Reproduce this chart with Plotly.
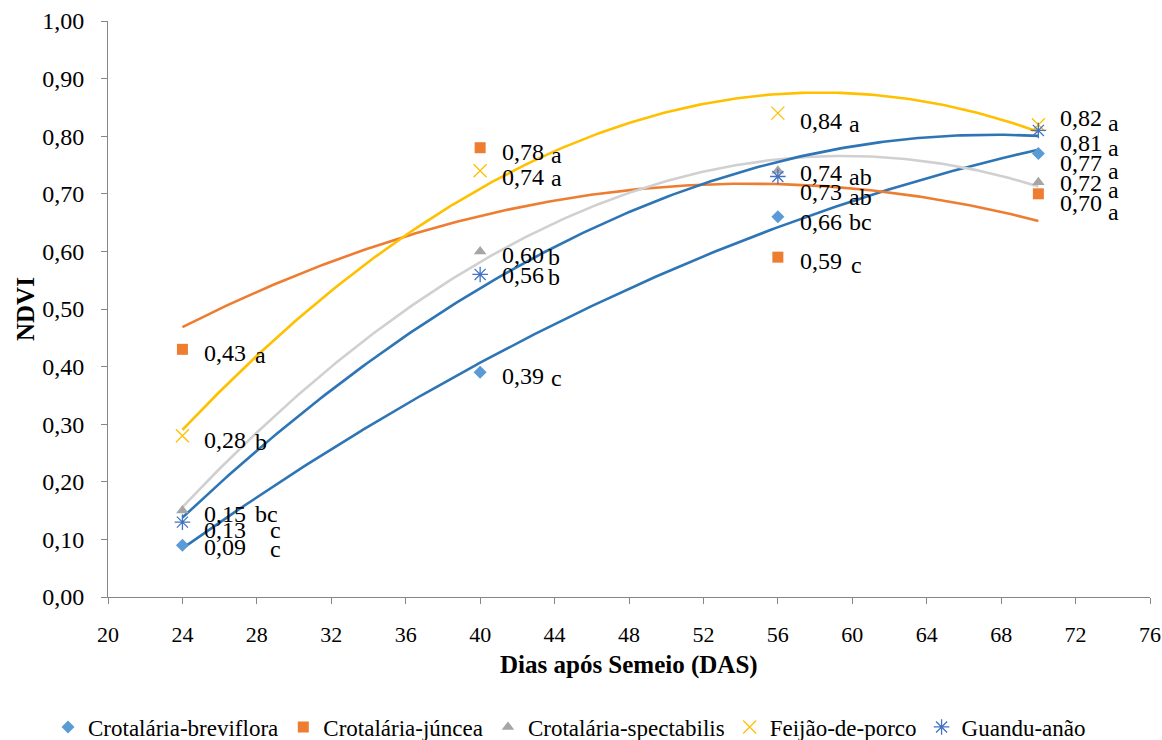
import numpy as np
import plotly.graph_objects as go

# ---------------- data ----------------
DAS = [24, 40, 56, 70]
series_names = ["Crotalária-breviflora", "Crotalária-júncea", "Crotalária-spectabilis",
                "Feijão-de-porco", "Guandu-anão"]
breviflora = [0.09, 0.39, 0.66, 0.77]
juncea = [0.43, 0.78, 0.59, 0.70]
spectabilis = [0.15, 0.60, 0.74, 0.72]
feijao = [0.28, 0.74, 0.84, 0.82]
guandu = [0.13, 0.56, 0.73, 0.81]
breviflora_letters = ["c", "c", "bc", "a"]
juncea_letters = ["a", "a", "c", "a"]
spectabilis_letters = ["bc", "b", "ab", "a"]
feijao_letters = ["b", "a", "a", "a"]
guandu_letters = ["c", "b", "ab", "a"]
x_ticks = list(range(20, 77, 4))

values = [breviflora, juncea, spectabilis, feijao, guandu]
letters = [breviflora_letters, juncea_letters, spectabilis_letters, feijao_letters, guandu_letters]

# ---------------- styles ----------------
marker_colors = ["#5B9BD5", "#ED7D31", "#A5A5A5", "#FFC000", "#4472C4"]
trend_colors = ["#2E75B6", "#ED7D31", "#D0D0D0", "#FFC000", "#2E75B6"]
symbols = ["diamond", "square", "triangle-up", "x-thin-open", "asterisk-open"]
sizes = [10, 11, 11, 13, 13]

# label offsets (pixels): per point (value_dy, letter_dx, letter_dy)
label_offsets = [
    [(-2, 86, -4), (-4, 69, -6), (-5, 69, -5), (-10, 68, -18)],      # breviflora
    [(-4, 71, -6), (-4, 69, -7), (-4, 71, -8), (-9, 68, -18)],       # juncea
    [(-3, 71, -3), (-4, 66, -6), (-2, 69, -6), (-1, 68, -8)],        # spectabilis
    [(-4, 71, -6), (-6, 69, -7), (-8, 69, -11), (7, 68, 2)],         # feijao
    [(-8, 86, -8), (-1, 66, -3), (-15, 69, -20), (-13, 68, -18)],    # guandu
]

FONT = "Liberation Serif"
W, H = 1162, 740
fig = go.Figure()

xs = np.linspace(min(DAS), max(DAS), 200)
# trend lines (2nd order polynomial, as in the source)
for i, vals in enumerate(values):
    coef = np.polyfit(DAS, vals, 2)
    fig.add_trace(go.Scatter(x=xs, y=np.polyval(coef, xs), mode="lines",
                             line=dict(color=trend_colors[i], width=2.6),
                             showlegend=False, hoverinfo="skip"))

for i, vals in enumerate(values):
    open_sym = symbols[i].endswith("open")
    fig.add_trace(go.Scatter(
        x=DAS, y=vals, mode="markers", name=series_names[i],
        marker=dict(symbol=symbols[i], size=sizes[i], color=marker_colors[i],
                    line=dict(color=marker_colors[i], width=1.3 if open_sym else 0)),
    ))

annotations = []
for i, vals in enumerate(values):
    for j, (xv, yv) in enumerate(zip(DAS, vals)):
        vdy, ldx, ldy = label_offsets[i][j]
        annotations.append(dict(x=xv, y=yv, xref="x", yref="y", text=f"{yv:.2f}".replace(".", ","),
                                showarrow=False, xanchor="left", yanchor="middle",
                                xshift=20, yshift=vdy, font=dict(family=FONT, size=24, color="black")))
        annotations.append(dict(x=xv, y=yv, xref="x", yref="y", text=letters[i][j],
                                showarrow=False, xanchor="left", yanchor="middle",
                                xshift=ldx, yshift=ldy, font=dict(family=FONT, size=24, color="black")))

annotations.append(dict(x=0.5, y=(597 - 665) / 576, xref="paper", yref="paper",
                        text="<b>Dias após Semeio (DAS)</b>", showarrow=False,
                        xanchor="center", yanchor="middle",
                        font=dict(family=FONT, size=25, color="black")))
annotations.append(dict(x=(25 - 108) / 1042, y=0.5, xref="paper", yref="paper",
                        text="<b>NDVI</b>", showarrow=False, textangle=-90,
                        xanchor="center", yanchor="middle",
                        font=dict(family=FONT, size=25, color="black")))

axis_color = "#868686"
fig.update_layout(
    width=W, height=H,
    margin=dict(l=108, r=W - 1150, t=21, b=H - 597, autoexpand=False),
    paper_bgcolor="white", plot_bgcolor="white",
    separators=",.",
    font=dict(family=FONT, size=24, color="black"),
    showlegend=True,
    legend=dict(orientation="h", xref="container", x=48 / W, xanchor="left",
                yref="container", y=(H - 727) / H, yanchor="middle",
                font=dict(family=FONT, size=23, color="black"),
                itemwidth=30, tracegroupgap=0),
    annotations=annotations,
    xaxis=dict(range=[20, 76], tickvals=x_ticks, ticktext=[str(t) for t in x_ticks],
               showgrid=False, zeroline=False, showline=True, linecolor=axis_color, linewidth=1,
               ticks="outside", ticklen=6, tickcolor=axis_color, ticklabelstandoff=12,
               tickangle=0, automargin=False,
               tickfont=dict(family=FONT, size=22, color="black")),
    yaxis=dict(range=[0, 1], dtick=0.1, tick0=0, tickformat=".2f", automargin=False,
               showgrid=False, zeroline=False, showline=True, linecolor=axis_color, linewidth=1,
               ticks="outside", ticklen=6, tickcolor=axis_color, ticklabelstandoff=12,
               tickfont=dict(family=FONT, size=24, color="black")),
)

fig.write_html("out.html", config={"displayModeBar": False},
               post_script="document.body.style.margin='0';document.body.style.overflow='hidden';")
